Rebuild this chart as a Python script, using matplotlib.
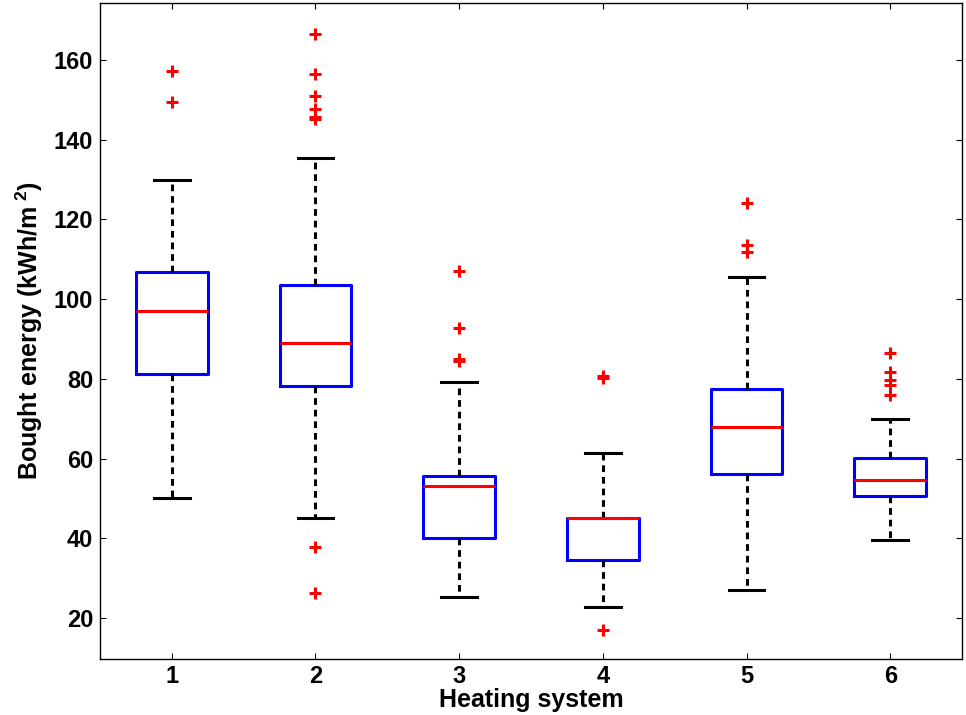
import matplotlib
matplotlib.use("Agg")
import matplotlib.pyplot as plt

# valores
sistemas = ["1", "2", "3", "4", "5", "6"]
medianas = [97.0, 89.1, 53.1, 45.0, 68.0, 54.6]
q1 = [81.1, 78.2, 40.0, 34.6, 56.1, 50.6]
q3 = [106.9, 103.6, 55.7, 45.1, 77.5, 60.1]
bigote_inf = [50.2, 45.0, 25.2, 22.8, 26.9, 39.6]
bigote_sup = [129.8, 135.3, 79.3, 61.5, 105.5, 69.9]
atipicos = [
    [157.2, 149.5],
    [166.5, 156.4, 151.0, 147.6, 145.8, 145.2, 37.8, 26.3],
    [107.1, 92.7, 85.0, 84.5],
    [80.6, 80.1, 17.0],
    [124.0, 113.6, 111.9],
    [86.4, 81.6, 79.7, 78.5, 76.0],
]

plt.rcParams['font.family'] = 'Liberation Sans'
plt.rcParams['font.weight'] = 'bold'
plt.rcParams['mathtext.fontset'] = 'custom'
plt.rcParams['mathtext.rm'] = 'Liberation Sans:bold'
plt.rcParams['mathtext.it'] = 'Liberation Sans:bold'
plt.rcParams['mathtext.bf'] = 'Liberation Sans:bold'

stats = []
for i in range(len(sistemas)):
    stats.append({
        "med": medianas[i], "q1": q1[i], "q3": q3[i],
        "whislo": bigote_inf[i], "whishi": bigote_sup[i],
        "fliers": atipicos[i], "label": sistemas[i],
    })

fig = plt.figure(figsize=(9.66, 7.15), dpi=100)
ax = fig.add_axes([0.1035, 0.0783, 0.8924, 0.9175])

ax.bxp(stats, widths=0.5, showfliers=True,
       boxprops=dict(color='blue', linewidth=2.2),
       medianprops=dict(color='red', linewidth=2.2),
       whiskerprops=dict(color='black', linewidth=2.2, linestyle=(0, (2.2, 1.6))),
       capprops=dict(color='black', linewidth=2.2),
       capwidths=0.25,
       flierprops=dict(marker='+', markeredgecolor='red', markersize=9, markeredgewidth=2.2))

ax.set_xlim(0.5, 6.5)
ax.set_ylim(9.7, 174.3)
ax.set_yticks([20, 40, 60, 80, 100, 120, 140, 160])
ax.tick_params(direction='in', length=4, width=0.8, labelsize=17, top=True, right=True)
ax.tick_params(axis='y', pad=5)
ax.tick_params(axis='x', pad=4)
for lbl in ax.get_xticklabels() + ax.get_yticklabels():
    lbl.set_fontweight('bold')
for s in ax.spines.values():
    s.set_linewidth(1.0)

ax.set_xlabel('Heating system', fontsize=18, fontweight='bold', labelpad=0)
ax.set_ylabel(r'Bought energy (kWh/m$^{\ 2}$)', fontsize=18, fontweight='bold', labelpad=6)

fig.savefig('out.png', dpi=100)
